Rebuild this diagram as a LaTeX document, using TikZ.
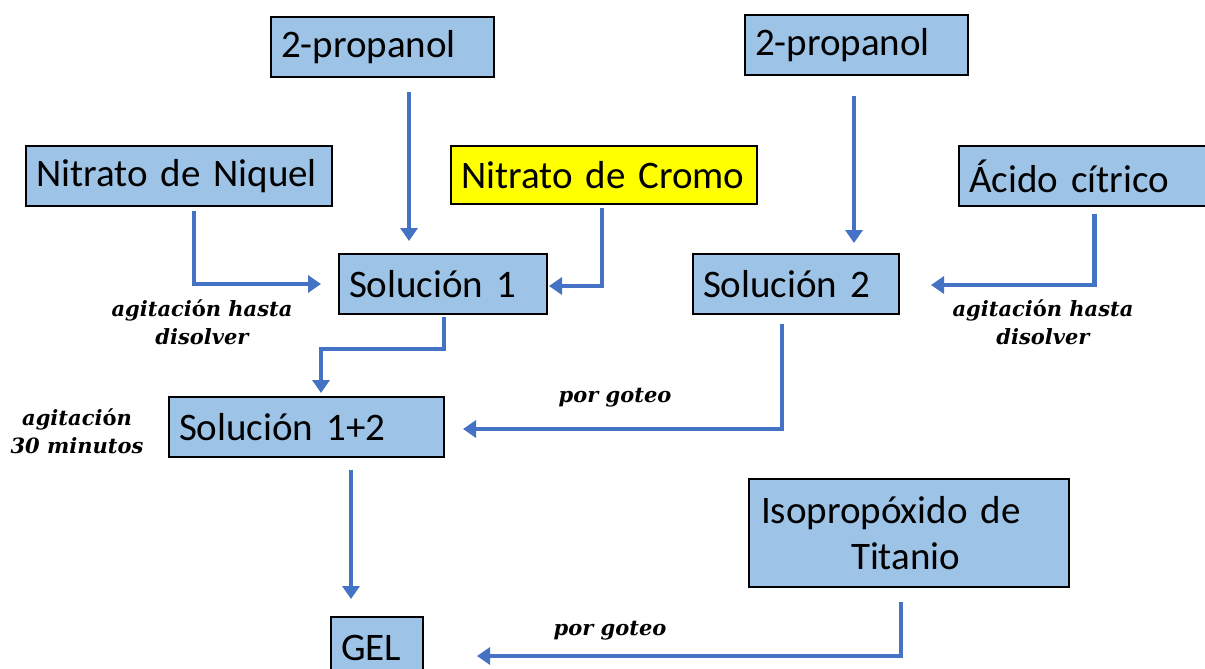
\documentclass[tikz,border=0pt]{standalone}
\usepackage{fontspec}
\setmainfont{Carlito}[WordSpace=0.85]
\newfontfamily\lblfont{DejaVu Serif}
\usetikzlibrary{arrows.meta}
\definecolor{boxblue}{HTML}{9DC3E6}
\definecolor{arrblue}{HTML}{4472C4}
\definecolor{boxyellow}{HTML}{FFFF00}
\tikzset{
  box/.style={draw=black, line width=2pt, fill=boxblue, anchor=north west,
    inner xsep=10pt, inner ysep=0pt, align=left, font=\fontsize{39}{46}\selectfont},
  arr/.style={draw=arrblue, line width=4.5pt, -{Triangle[length=13pt,width=17pt]}},
  lbl/.style={align=center, font=\lblfont\bfseries\itshape\fontsize{21}{28}\selectfont, inner sep=0pt}
}
\newcommand{\oacc}{{\upshape ó}}
\begin{document}
\begin{tikzpicture}[x=1pt,y=-1pt]
\useasboundingbox (0,0) rectangle (1205,669);
% boxes
\node[box, minimum width=223pt, minimum height=60pt, text width=203pt] (p1) at (270,16) {2-propanol};
\node[box, minimum width=223pt, minimum height=60pt, text width=203pt] (p2) at (744,14) {2-propanol};
\node[box, minimum width=306pt, minimum height=60pt, text width=286pt] (nq) at (25,145) {Nitrato de Niquel};
\node[box, fill=boxyellow, minimum width=306pt, minimum height=58pt, text width=286pt] (cr) at (450,145) {Nitrato de Cromo};
\node[box, minimum width=262pt, minimum height=60pt, text width=242pt] (ac) at (958,145) {Ácido cítrico};
\node[box, minimum width=208pt, minimum height=60pt, text width=188pt] (s1) at (338,253) {Solución 1};
\node[box, minimum width=206pt, minimum height=60pt, text width=186pt] (s2) at (692,253) {Solución 2};
\node[box, minimum width=275pt, minimum height=60pt, text width=255pt] (s12) at (168,396) {Solución 1+2};
\node[box, inner xsep=12pt, minimum width=320pt, minimum height=108pt, text width=296pt] (iso) at (748,478) {Isopropóxido de\\\hspace*{90pt}Titanio};
\node[box, minimum width=92pt, minimum height=62pt, text width=72pt] (gel) at (330,616) {GEL};
% connectors
\draw[arr] ([xshift=26.5pt,yshift=-14pt]p1.south) -- ([xshift=-34pt,yshift=12pt]s1.north);
\draw[arr] ([xshift=15pt,yshift=-4pt]nq.south) |- ([xshift=-17pt]s1.west);
\draw[arr] ([xshift=-2pt,yshift=-3pt]cr.south) |- ([xshift=1pt,yshift=-2pt]s1.east);
\draw[arr] ([xshift=1pt,yshift=-2pt]s1.south) -- ++(0,32) -| ([xshift=14.5pt,yshift=3pt]s12.north);
\draw[arr] ([xshift=-2.5pt,yshift=-20pt]p2.south) -- ([xshift=58pt,yshift=10pt]s2.north);
\draw[arr] ([xshift=4.5pt,yshift=-7pt]ac.south) |- ([xshift=31pt,yshift=-1pt]s2.east);
\draw[arr] ([xshift=-14pt,yshift=-9pt]s2.south) |- ([xshift=18pt,yshift=-2pt]s12.east);
\draw[arr] ([xshift=44.5pt,yshift=-12pt]s12.south) -- ([xshift=-26pt,yshift=17pt]gel.north);
\draw[arr] ([xshift=-8pt,yshift=-14pt]iso.south) |- ([xshift=53pt,yshift=-8pt]gel.east);
% labels
\node[lbl] (l1) at (202,322) {agitaci\oacc n hasta\\disolver};
\node[lbl] (l2) at (1043,322) {agitaci\oacc n hasta\\disolver};
\node[lbl] (l3) at (77,431) {agitaci\oacc n\\30 minutos};
\node[lbl] (l4) at (615,398) {por goteo};
\node[lbl] (l5) at (610,631) {por goteo};
\end{tikzpicture}
\end{document}
